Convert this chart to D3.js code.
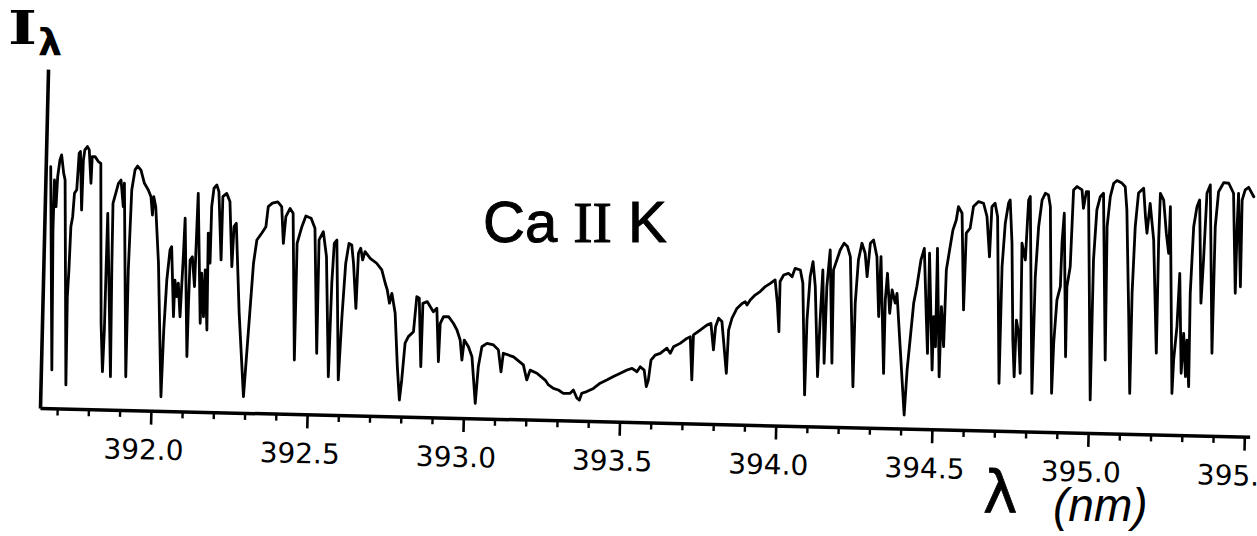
<!DOCTYPE html>
<html><head><meta charset="utf-8">
<script src="https://cdn.jsdelivr.net/npm/d3@7"></script>
<style>html,body{margin:0;padding:0;background:#fff;overflow:hidden}</style>
</head><body><svg id="chart" width="1257" height="536"></svg>
<script>
const wavelength = [
391.661,391.680,391.673,391.674,391.681,391.684,391.690,391.695,391.703,391.708,
391.726,391.724,391.727,391.730,391.735,391.739,391.746,391.751,391.755,391.763,
391.765,391.769,391.777,391.783,391.791,391.793,391.802,391.813,391.821,391.834,
391.842,391.845,391.846,391.847,391.857,391.868,391.864,391.863,391.879,391.887,
391.896,391.898,391.917,391.917,391.922,391.931,391.939,391.950,391.962,391.975,
391.984,391.990,391.993,392.000,392.013,392.031,392.035,392.041,392.049,392.054,
392.065,392.067,392.074,392.078,392.086,392.089,392.092,392.095,392.111,392.112,
392.114,392.121,392.130,392.133,392.135,392.151,392.152,392.161,392.163,392.173,
392.170,392.178,392.179,392.185,392.194,392.201,392.213,392.214,392.226,392.237,
392.248,392.252,392.259,392.275,392.295,392.306,392.317,392.326,392.341,392.354,
392.360,392.373,392.390,392.403,392.411,392.417,392.430,392.440,392.455,392.455,
392.469,392.481,392.498,392.511,392.526,392.525,392.538,392.550,392.565,392.569,
392.574,392.582,392.597,392.604,392.612,392.621,392.630,392.637,392.648,392.652,
392.659,392.666,392.673,392.690,392.711,392.728,392.740,392.747,392.755,392.762,
392.774,392.785,392.794,392.800,392.808,392.818,392.834,392.842,392.850,392.860,
392.862,392.876,392.896,392.907,392.916,392.919,392.929,392.945,392.961,392.973,
392.984,392.991,392.997,393.011,393.023,393.037,393.044,393.054,393.070,393.091,
393.107,393.117,393.123,393.156,393.188,393.200,393.210,393.232,393.259,393.270,
393.286,393.302,393.318,393.340,393.350,393.362,393.370,393.377,393.393,393.414,
393.435,393.456,393.477,393.499,393.520,393.536,393.552,393.562,393.575,393.583,
393.589,393.596,393.609,393.625,
393.646,393.657,393.667,393.688,393.709,393.720,393.728,393.730,393.751,393.772,
393.785,393.795,393.800,393.809,393.820,393.838,393.842,393.852,393.867,393.883,
393.893,393.899,393.909,393.924,393.940,393.956,393.972,393.987,393.996,394.003,
394.003,394.014,394.029,394.041,394.050,394.067,394.076,394.090,394.092,394.099,
394.107,394.116,394.130,394.134,394.139,394.150,394.153,394.161,394.175,394.173,
394.183,394.193,394.205,394.216,394.226,394.244,394.245,394.252,394.262,394.273,
394.281,394.289,394.299,394.311,394.321,394.324,394.341,394.341,394.346,394.356,
394.362,394.373,394.378,394.392,394.410,394.416,394.424,394.432,394.441,394.452,
394.462,394.474,394.480,394.479,394.496,394.497,394.505,394.504,394.519,394.521,
394.531,394.534,394.543,394.552,394.562,394.568,
394.580,394.592,394.595,394.607,394.616,394.632,394.648,394.660,394.671,394.675,
394.685,394.694,394.711,394.712,394.719,394.728,394.733,394.742,394.752,394.759,
394.762,394.770,394.778,394.774,394.786,394.792,394.797,394.817,394.819,394.826,
394.835,394.845,394.855,394.862,394.880,394.883,394.890,394.900,394.902,394.907,
394.922,394.921,394.930,394.935,394.946,394.962,394.968,394.976,394.983,395.004,
395.004,395.011,395.021,395.031,395.049,395.045,395.053,395.063,395.073,395.089,
395.100,395.107,395.121,395.130,395.130,395.135,395.143,395.159,395.167,395.173,
395.181,395.195,395.212,395.211,395.213,395.224,395.235,395.244,395.246,395.265,
395.268,395.276,395.281,395.293,395.298,395.307,395.309,395.318,395.316,395.322,
395.331,395.339,395.351,395.356,395.362,395.372,395.390,395.391,395.399,395.415,
395.431,395.447,395.460,395.461,395.463,395.476,395.475,395.484,395.495,395.512
];
const intensity = [
80.5,12.8,59.4,76.1,67.2,77.2,82.8,84.5,78.4,76.2,
7.9,37.3,46.2,60.7,64.0,71.8,73.0,85.2,85.8,66.3,
83.0,86.4,87.5,86.4,75.3,84.2,84.2,82.6,82.0,28.7,
12.6,26.5,48.8,65.4,39.9,11.0,48.8,68.8,75.5,76.6,
67.8,75.6,11.1,46.7,73.4,80.1,81.4,80.1,75.7,73.5,
71.3,65.2,71.3,68.0,49.2,4.7,27.0,43.7,53.7,54.8,
31.5,43.7,38.2,42.7,31.5,41.6,51.6,64.4,18.3,34.9,
50.5,51.6,41.7,60.6,72.8,29.5,46.2,31.7,47.3,27.3,
59.6,49.6,68.5,74.6,75.7,73.5,50.8,71.9,73.0,70.3,
48.6,62.0,63.1,33.1,5.4,27.6,49.9,57.7,60.0,62.2,
68.9,70.1,70.6,69.0,56.8,65.7,68.5,66.9,18.0,56.9,
62.5,66.1,65.4,62.1,20.4,58.2,61.0,52.7,12.7,43.9,
57.2,58.3,11.7,32.8,50.6,57.3,56.8,50.7,35.7,54.1,
55.8,51.9,54.7,52.5,50.9,48.7,44.3,42.1,37.7,41.0,
34.4,16.6,5.5,12.2,24.5,26.7,28.4,40.1,39.6,16.8,
37.9,38.5,35.2,36.4,18.6,31.4,33.6,33.7,31.5,29.3,
26.0,19.3,26.0,23.8,20.5,5.0,17.2,23.9,25.1,24.6,
23.0,15.7,21.9,20.8,18.2,13.2,16.5,15.5,13.3,11.7,
10.6,10.1,9.0,9.1,10.2,7.5,6.9,9.2,9.8,10.9,
12.7,13.8,15.0,16.2,17.3,17.9,16.8,18.5,17.4,11.9,
14.1,20.8,22.5,23.1,
24.9,23.2,25.4,26.6,28.3,28.9,14.5,29.5,31.2,32.9,
33.5,24.7,32.4,35.3,34.2,17.0,31.4,35.4,38.7,40.4,
41.0,39.9,41.6,43.3,44.5,46.2,47.3,48.5,40.7,31.3,
48.0,50.2,50.8,49.7,52.5,52.0,47.6,10.4,35.4,49.9,
54.9,46.6,16.6,35.5,52.2,21.1,46.7,58.9,21.2,52.3,
55.6,59.0,61.3,60.2,56.8,13.5,41.3,55.8,61.4,58.1,
50.3,61.5,62.6,57.0,37.1,57.1,18.2,42.7,51.6,38.3,
46.1,41.7,45.0,27.2,4.5,19.5,30.6,41.8,47.4,56.3,
60.2,36.3,25.2,58.6,19.7,37.5,27.5,60.3,17.5,40.9,
27.6,53.2,59.9,66.5,69.9,74.4,
72.2,40.0,65.6,67.3,74.5,76.2,75.7,71.3,57.9,74.6,
75.8,71.3,15.8,54.7,69.2,75.9,77.0,62.6,30.4,18.1,
37.0,32.6,19.3,62.7,57.1,77.1,78.3,12.7,51.6,68.3,
77.2,79.5,79.0,75.1,12.9,29.6,44.0,48.5,63.0,73.0,
25.2,48.5,55.2,80.8,82.0,80.9,74.8,80.4,80.4,11.0,
57.7,74.4,78.8,80.0,24.4,68.9,78.9,83.4,84.3,83.5,
82.3,74.6,39.0,13.5,46.9,69.1,80.3,82.0,72.5,67.0,
77.0,64.8,27.1,64.8,80.4,78.2,67.1,60.5,76.0,13.8,
25.0,36.1,53.9,20.6,33.9,19.5,31.7,16.2,47.3,69.5,
76.2,78.5,44.1,58.5,80.8,83.6,27.5,69.7,81.4,84.5,
84.3,81.0,47.7,69.9,81.0,49.9,78.8,82.2,83.1,80.0
];
const majorTicks = [392.0, 392.5, 393.0, 393.5, 394.0, 394.5, 395.0, 395.5];
const minorTicks = [391.7,391.8,391.9,392.1,392.2,392.3,392.4,392.6,392.7,392.8,392.9,
  393.1,393.2,393.3,393.4,393.6,393.7,393.8,393.9,394.1,394.2,394.3,394.4,
  394.6,394.7,394.8,394.9,395.1,395.2,395.3,395.4];
const xDomain = [391.645, 395.517];
const yDomain = [0, 113];
const lineLabel = ["Ca ", "II", " K"];
const xTitle = ["λ", "(nm)"];
const yTitle = ["I", "λ"];

// ---- drawing ----
const svg = d3.select("#chart");
svg.append("rect").attr("width", 1257).attr("height", 536).attr("fill", "#fff");
const plotW = 1210, plotH = 339, tilt = 1.36;
const x = d3.scaleLinear().domain(xDomain).range([0, plotW]);
const y = d3.scaleLinear().domain(yDomain).range([0, -plotH]);
const frame = svg.append("g").attr("transform", `translate(40,408) rotate(${tilt})`);

// minor ticks
const minorG = frame.append("g").call(
  d3.axisBottom(x).tickValues(minorTicks).tickSize(7).tickSizeOuter(0).tickFormat(() => ""));
minorG.select(".domain").remove();
minorG.selectAll(".tick line").attr("stroke", "#000").attr("stroke-width", 2.4);

// main axis with labelled ticks
const xAxisG = frame.append("g").call(
  d3.axisBottom(x).tickValues(majorTicks).tickSize(14).tickSizeOuter(0)
    .tickPadding(15).tickFormat(d3.format(".1f")));
xAxisG.select(".domain").attr("stroke", "#000").attr("stroke-width", 3.5);
xAxisG.selectAll(".tick line").attr("stroke", "#000").attr("stroke-width", 2.6);
xAxisG.selectAll(".tick text")
  .attr("dx", -7)
  .attr("fill", "#000")
  .style("font-family", "'DejaVu Sans', sans-serif")
  .style("font-size", "28px");

// y axis (no ticks)
const yAxisG = frame.append("g").call(d3.axisLeft(y).tickValues([]).tickSizeOuter(0));
yAxisG.select(".domain").attr("stroke", "#000").attr("stroke-width", 3.6);

// spectrum
const n = Math.min(wavelength.length, intensity.length);
const pts = d3.range(n).map(i => [wavelength[i], intensity[i]]);
frame.append("path").datum(pts)
  .attr("d", d3.line().x(d => x(d[0])).y(d => y(d[1])))
  .attr("fill", "none").attr("stroke", "#000")
  .attr("stroke-width", 2.8)
  .attr("stroke-linejoin", "round").attr("stroke-linecap", "round");

// y title  I_λ
svg.append("text").attr("x", 8).attr("y", 44)
  .attr("textLength", 29).attr("lengthAdjust", "spacingAndGlyphs")
  .style("font-family", "'DejaVu Serif', serif").style("font-weight", "bold")
  .style("font-size", "46px").text(yTitle[0]);
svg.append("text").attr("x", 38).attr("y", 55)
  .style("font-family", "'DejaVu Sans', sans-serif").style("font-weight", "bold")
  .style("font-size", "38px").text(yTitle[1]);

// line annotation
const ann = svg.append("text").attr("x", 483).attr("y", 242)
  .style("font-family", "'Liberation Sans', sans-serif").style("font-size", "58px")
  .attr("stroke", "#000").attr("stroke-width", 1.0);
ann.append("tspan").text(lineLabel[0]);
ann.append("tspan").style("font-family", "'Liberation Serif', serif").text(lineLabel[1]);
ann.append("tspan").text(lineLabel[2]);

// x title  λ (nm)
svg.append("text").attr("x", 983).attr("y", 513)
  .style("font-family", "'DejaVu Sans', sans-serif").style("font-size", "58px")
  .attr("stroke", "#000").attr("stroke-width", 0.8).text(xTitle[0]);
svg.append("text").attr("x", 1053).attr("y", 521)
  .style("font-family", "'Liberation Sans', sans-serif").style("font-style", "italic")
  .style("font-size", "46px").text(xTitle[1]);
</script>
</body></html>
